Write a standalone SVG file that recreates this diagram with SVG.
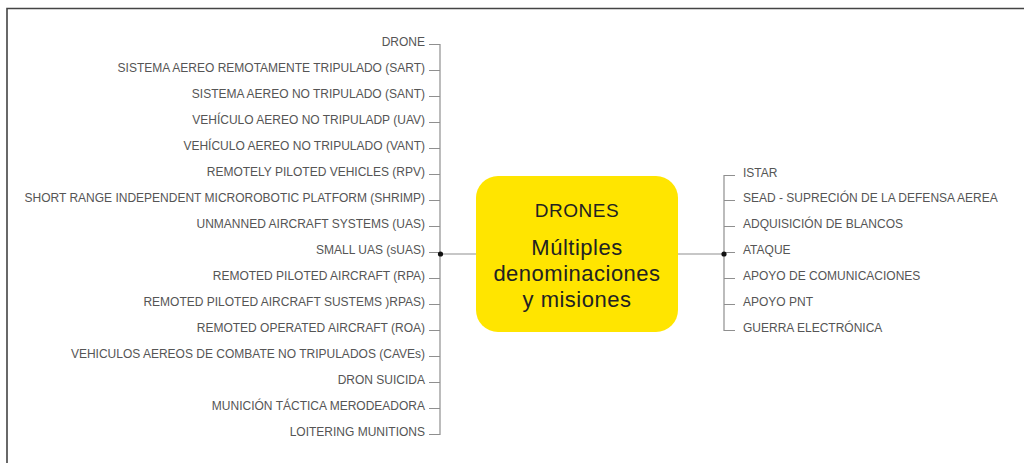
<svg xmlns="http://www.w3.org/2000/svg" width="1024" height="463" viewBox="0 0 1024 463">
<style>
.frame{fill:none;stroke:#444;stroke-width:1.6}
.ln{fill:none;stroke:#8f8f8f;stroke-width:1.2}
.lt{font-family:"Liberation Sans",Arial,sans-serif;font-size:12px;fill:#555;text-anchor:end}
.rt{font-family:"Liberation Sans",Arial,sans-serif;font-size:12px;fill:#555;text-anchor:start}
.bt{font-family:"Liberation Sans",Arial,sans-serif;font-size:22px;fill:#222;text-anchor:middle;letter-spacing:0.5px}
.bh{font-family:"Liberation Sans",Arial,sans-serif;font-size:19px;fill:#222;text-anchor:middle;letter-spacing:0.5px}
</style>
<rect width="1024" height="463" fill="#fff"/>
<path class="frame" d="M7 463 V8.5 H1024"/>
<g id="connectors">
<path class="ln" d="M429 44.5 H440 V434.5 H429 M429 70.5 H440 M429 96.5 H440 M429 122.5 H440 M429 148.5 H440 M429 174.5 H440 M429 200.5 H440 M429 226.5 H440 M429 252.5 H440 M429 278.5 H440 M429 304.5 H440 M429 330.5 H440 M429 356.5 H440 M429 382.5 H440 M429 408.5 H440"/>
<path class="ln" d="M440 254 H476"/>
<circle cx="440.5" cy="254" r="2.6" fill="#111"/>
<path class="ln" d="M735 175.5 H724 V330.5 H735 M735 200.5 H724 M735 226.5 H724 M735 252.5 H724 M735 278.5 H724 M735 304.5 H724"/>
<path class="ln" d="M678 254 H724"/>
<circle cx="724" cy="254" r="2.6" fill="#111"/>
</g>
<g id="center">
<rect x="476" y="176" width="202" height="156" rx="22" fill="#FFE500"/>
<text class="bh" x="577" y="217">DRONES</text>
<text class="bt" x="577" y="255">Múltiples</text>
<text class="bt" x="577" y="281">denominaciones</text>
<text class="bt" x="577" y="307">y misiones</text>
</g>
<g id="left-items">
<text class="lt" x="425" y="45.5">DRONE</text>
<text class="lt" x="425" y="71.5">SISTEMA AEREO REMOTAMENTE TRIPULADO (SART)</text>
<text class="lt" x="425" y="97.5">SISTEMA AEREO NO TRIPULADO (SANT)</text>
<text class="lt" x="425" y="123.5">VEHÍCULO AEREO NO TRIPULADP (UAV)</text>
<text class="lt" x="425" y="149.5">VEHÍCULO AEREO NO TRIPULADO (VANT)</text>
<text class="lt" x="425" y="175.5">REMOTELY PILOTED VEHICLES (RPV)</text>
<text class="lt" x="425" y="201.5">SHORT RANGE INDEPENDENT MICROROBOTIC PLATFORM (SHRIMP)</text>
<text class="lt" x="425" y="227.5">UNMANNED AIRCRAFT SYSTEMS (UAS)</text>
<text class="lt" x="425" y="253.5">SMALL UAS (sUAS)</text>
<text class="lt" x="425" y="279.5">REMOTED PILOTED AIRCRAFT (RPA)</text>
<text class="lt" x="425" y="305.5">REMOTED PILOTED AIRCRAFT SUSTEMS )RPAS)</text>
<text class="lt" x="425" y="331.5">REMOTED OPERATED AIRCRAFT (ROA)</text>
<text class="lt" x="425" y="357.5">VEHICULOS AEREOS DE COMBATE NO TRIPULADOS (CAVEs)</text>
<text class="lt" x="425" y="383.5">DRON SUICIDA</text>
<text class="lt" x="425" y="409.5">MUNICIÓN TÁCTICA MERODEADORA</text>
<text class="lt" x="425" y="435.5">LOITERING MUNITIONS</text>
</g>
<g id="right-items">
<text class="rt" x="743" y="176.5">ISTAR</text>
<text class="rt" x="743" y="202">SEAD - SUPRECIÓN DE LA DEFENSA AEREA</text>
<text class="rt" x="743" y="228">ADQUISICIÓN DE BLANCOS</text>
<text class="rt" x="743" y="254">ATAQUE</text>
<text class="rt" x="743" y="280">APOYO DE COMUNICACIONES</text>
<text class="rt" x="743" y="306">APOYO PNT</text>
<text class="rt" x="743" y="332">GUERRA ELECTRÓNICA</text>
</g>
</svg>
